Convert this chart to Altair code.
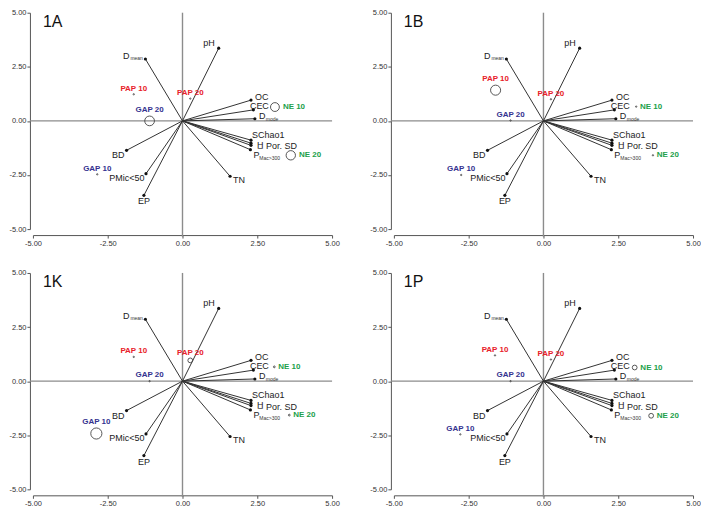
import altair as alt
import pandas as pd

# ---------------- data ----------------
var_names = ["Dmean", "pH", "OC", "CEC", "Dmode", "SChao1", "H", "PorSD",
             "PMac300", "TN", "BD", "PMic50", "EP"]
var_x = [-1.24, 1.21, 2.29, 2.37, 2.42, 2.29, 2.29, 2.29, 2.27, 1.59, -1.87, -1.22, -1.29]
var_y = [2.86, 3.36, 0.96, 0.51, 0.10, -0.89, -1.03, -1.13, -1.33, -2.56, -1.36, -2.44, -3.44]
var_text = ["D", "pH", "OC", "CEC", "D", "SChao1", "H\u0332", "Por. SD", "P", "TN", "BD",
            "PMic<50", "EP"]
var_sub = ["mean", "", "", "", "mode", "", "", "", "Mac>300", "", "", "", ""]

panels = ["1A", "1B", "1K", "1P"]
site_names = ["PAP 10", "PAP 20", "GAP 20", "GAP 10", "NE 10", "NE 20"]
site_group = ["PAP", "PAP", "GAP", "GAP", "NE", "NE"]
site_x = {
    "1A": [-1.63, 0.26, -1.10, -2.85, 3.09, 3.62],
    "1B": [-1.60, 0.25, -1.10, -2.75, 3.10, 3.66],
    "1K": [-1.63, 0.26, -1.10, -2.88, 3.07, 3.57],
    "1P": [-1.62, 0.25, -1.10, -2.78, 3.05, 3.60],
}
site_y = {
    "1A": [1.23, 1.03, 0.00, -2.47, 0.64, -1.59],
    "1B": [1.42, 1.00, 0.02, -2.50, 0.66, -1.59],
    "1K": [1.12, 0.96, 0.00, -2.42, 0.66, -1.57],
    "1P": [1.19, 1.00, 0.00, -2.46, 0.63, -1.60],
}
site_abund = {
    "1A": [1.5, 1.5, 11.0, 1.5, 10.0, 10.6],
    "1B": [11.4, 1.5, 1.5, 1.5, 1.5, 1.5],
    "1K": [1.5, 5.4, 1.5, 12.6, 2.0, 2.0],
    "1P": [1.5, 1.5, 1.5, 1.5, 5.4, 5.4],
}
tick_vals = [-5, -2.5, 0, 2.5, 5]

# ---------------- styling ----------------
W, H = 300, 217
XU, YU = W / 10.0, H / 10.0
FONT = "Liberation Sans"

label_style = {  # align, dx(px), dy(px)
    "Dmean": ("right", -16, -3), "pH": ("right", -4, -5), "OC": ("left", 4, -3),
    "CEC": ("left", -3.5, -4), "Dmode": ("left", 4, -3), "SChao1": ("left", 1, -5),
    "H": ("left", 6, 1.5), "PorSD": ("left", 15, 1), "PMac300": ("left", 3, 5),
    "TN": ("left", 3, 3.5), "BD": ("right", -2, 5), "PMic50": ("right", -1.5, 4),
    "EP": ("center", 0, 6),
}
sub_style = {"Dmean": (-15, -1.5), "Dmode": (11, 0.5), "PMac300": (9, 8.5)}

vec_df = pd.DataFrame({"name": var_names, "x": var_x, "y": var_y})
vec_df["x0"] = 0.0
vec_df["y0"] = 0.0

lab_rows, sub_rows = [], []
for n, x, y, t, s in zip(var_names, var_x, var_y, var_text, var_sub):
    al, dx, dy = label_style[n]
    lab_rows.append({"t": t, "x": x + dx / XU, "y": y - dy / YU, "align": al})
    if s:
        sdx, sdy = sub_style[n]
        sub_rows.append({"t": s, "x": x + sdx / XU, "y": y - sdy / YU})
lab_df = pd.DataFrame(lab_rows)
sub_df = pd.DataFrame(sub_rows)

zero_df = pd.DataFrame({"x": [-5.1, 0.0], "x2": [5.0, 0.0],
                        "y": [0.0, -5.35], "y2": [0.0, 5.0]})

label_expr = "replace(format(datum.value, '.2f'), '\u2212', '-')"
axis_common = dict(values=tick_vals, labelExpr=label_expr, grid=False, tickSize=3,
                   labelFontSize=7.5, labelFont=FONT, labelColor="#333",
                   domainColor="#555", tickColor="#555", title=None,
                   labelPadding=1, labelOverlap=False)
xs = alt.Scale(domain=[-5, 5], nice=False)
ys = alt.Scale(domain=[-5, 5], nice=False)
axis_x = alt.Axis(offset=6, labelFlush=False, **axis_common)
axis_y = alt.Axis(offset=3, **axis_common)


def X(f="x"):
    return alt.X(f"{f}:Q", scale=xs, axis=axis_x)


def Y(f="y"):
    return alt.Y(f"{f}:Q", scale=ys, axis=axis_y)


color_scale = alt.Scale(domain=["PAP", "GAP", "NE"], range=["#e8222a", "#34328f", "#21a04a"])
size_scale = alt.Scale(type="pow", exponent=2, domain=[0, 13], range=[0, 3.1416 * 6.5 ** 2])


def make_panel(p):
    rows = []
    for i, n in enumerate(site_names):
        x, y, a, g = site_x[p][i], site_y[p][i], site_abund[p][i], site_group[i]
        r = a / 2.0
        if g == "NE":
            lx, ly, al = x + (r + 3) / XU, y, "left"
        else:
            lx, ly, al = x, y + (r + 5) / YU, "center"
        rows.append({"name": n, "group": g, "x": x, "y": y, "ab": a,
                     "lx": lx, "ly": ly, "align": al})
    sdf = pd.DataFrame(rows)

    zero = alt.Chart(zero_df).mark_rule(color="#8c8c8c", strokeWidth=1.4).encode(
        x=X(), x2="x2:Q", y=Y(), y2="y2:Q")
    vecs = alt.Chart(vec_df).mark_rule(color="#333", strokeWidth=1).encode(
        x=X("x0"), x2="x:Q", y=Y("y0"), y2="y:Q")
    ends = alt.Chart(vec_df).mark_circle(size=10, color="#111", opacity=1).encode(x=X(), y=Y())
    layers = [zero, vecs, ends]
    for al in ["left", "right", "center"]:
        layers.append(
            alt.Chart(lab_df).transform_filter(alt.datum.align == al).mark_text(
                align=al, baseline="middle", font=FONT, fontSize=9, fill="#222"
            ).encode(x=X(), y=Y(), text="t:N"))
    layers.append(alt.Chart(sub_df).mark_text(
        align="left", baseline="middle", font=FONT, fontSize=5, fill="#333"
    ).encode(x=X(), y=Y(), text="t:N"))
    layers.append(alt.Chart(sdf).mark_point(filled=False, stroke="#444", strokeWidth=0.9,
                                             opacity=1, shape="circle").encode(
        x=X(), y=Y(), size=alt.Size("ab:Q", scale=size_scale, legend=None)))
    for al in ["center", "left"]:
        layers.append(
            alt.Chart(sdf).transform_filter(alt.datum.align == al).mark_text(
                align=al, baseline="middle", font=FONT, fontSize=8, fontWeight="bold"
            ).encode(x=X("lx"), y=Y("ly"), text="name:N",
                     color=alt.Color("group:N", scale=color_scale, legend=None)))
    return alt.layer(*layers).properties(
        width=W, height=H,
        title=alt.TitleParams(text=p, anchor="start", frame="group", offset=-21, dx=10,
                              baseline="top", fontSize=16, fontWeight="normal",
                              font=FONT, color="#111"))


A, B, K, P = [make_panel(p) for p in panels]
chart = alt.vconcat(
    alt.hconcat(A, B, spacing=29),
    alt.hconcat(K, P, spacing=29),
    spacing=22,
).properties(padding=0).configure_view(stroke=None)

chart.save("out.html", embed_options={"renderer": "svg", "actions": False})
